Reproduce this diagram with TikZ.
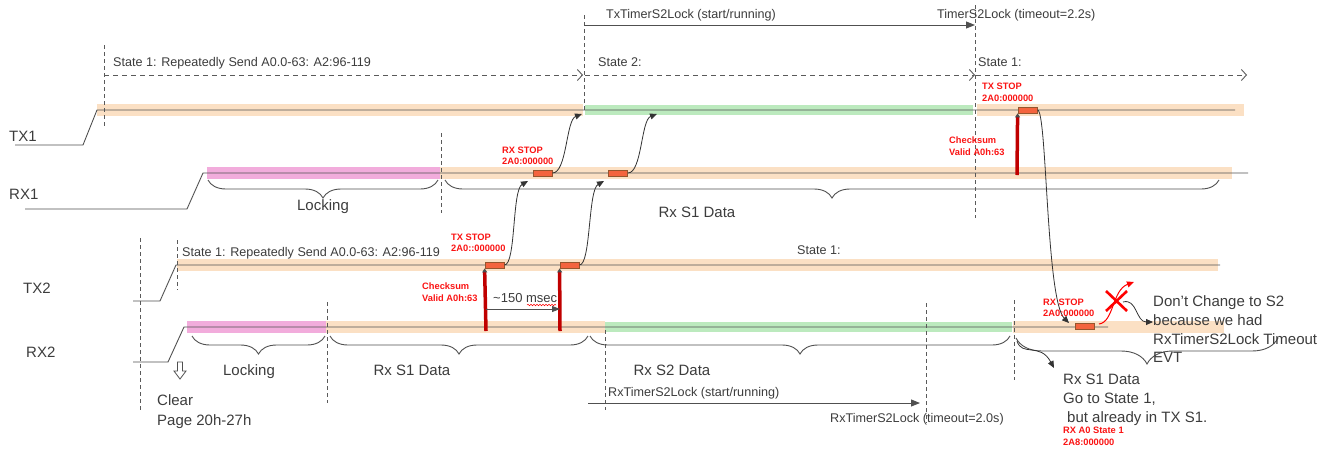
\documentclass[tikz,border=0pt]{standalone}
\usepackage{fontspec}
\setmainfont{Liberation Sans}
\usetikzlibrary{arrows.meta,decorations.pathreplacing,decorations.pathmorphing}
\definecolor{bandO}{RGB}{251,224,196}
\definecolor{bandP}{RGB}{242,172,220}
\definecolor{bandG}{RGB}{188,234,190}
\definecolor{sigc}{RGB}{80,80,80}
\definecolor{dashc}{RGB}{90,90,90}
\definecolor{txtc}{RGB}{60,60,60}
\definecolor{rboxf}{RGB}{244,100,62}
\definecolor{rboxd}{RGB}{150,85,45}
\definecolor{barc}{RGB}{192,0,0}
\definecolor{redtc}{RGB}{250,20,20}
\begin{document}
\begin{tikzpicture}[x=1pt,y=-1pt,
 sig/.style={draw=sigc, line width=0.9pt},
 band/.style={line width=12pt},
 vdash/.style={draw=dashc, line width=0.9pt, dash pattern=on 4pt off 3pt},
 hdash/.style={draw=dashc, line width=0.9pt, dash pattern=on 5pt off 4pt, -{Straight Barb[length=5pt,width=11pt]}},
 timer/.style={draw=sigc, line width=1pt, -{Triangle[length=9pt,width=7pt]}},
 conn/.style={draw=black!80, line width=0.8pt, -{Triangle[length=7pt,width=6pt]}},
 brc/.style={draw=sigc, line width=0.9pt, decorate, decoration={brace, mirror, amplitude=18pt}},
 rbox/.style={draw=rboxd, fill=rboxf, line width=0.8pt, minimum width=19pt, minimum height=6pt, inner sep=0pt},
 redbar/.style={draw=barc, line width=3.5pt, -{Triangle[length=4pt,width=5pt,color=black!70]}},
 small/.style={font=\fontsize{12.6}{14}\selectfont, text=txtc, inner sep=0pt, anchor=base west},
 big/.style={font=\fontsize{15}{18.5}\selectfont, text=txtc, inner sep=0pt, anchor=base},
 bigblock/.style={font=\fontsize{15}{18.7}\selectfont, text=txtc, inner sep=0pt, align=left, anchor=north west},
 redt/.style={font=\bfseries\fontsize{9.3}{11.5}\selectfont, text=redtc, inner sep=0pt, align=left, anchor=north west},
]
\useasboundingbox (0,0) rectangle (1338,448);

% ---------- bands ----------
\draw[band, bandO] (97,110) -- (583,110);
\draw[band, bandG, line width=10pt] (585,110) -- (973,110);
\draw[band, bandO] (977,110) -- (1244,110);
\draw[band, bandP] (207,173) -- (440,173);
\draw[band, bandO] (440,173) -- (1232,173);
\draw[band, bandO] (177,265) -- (1218,265);
\draw[band, bandP] (187,327) -- (326,327);
\draw[band, bandO] (326,327) -- (605,327);
\draw[band, bandG, line width=10pt] (605,327) -- (1012,327);
\draw[band, bandO] (1013,327) -- (1224,327);

% ---------- signals ----------
\draw[sig] (15,145) -- (83,145) -- (97,110) -- (1235,110);
\draw[sig] (25,209) -- (187,209) -- (203,173) -- (1248,173);
\draw[sig] (133,301) -- (160,301) -- (176,265) -- (1220,265);
\draw[sig] (133,362) -- (168,362) -- (184,327) -- (1108,327);

% ---------- dashed verticals ----------
\draw[vdash] (104,45) -- (104,127);
\draw[vdash] (441,133) -- (441,213);
\draw[vdash] (584,15) -- (584,112);
\draw[vdash] (975,5) -- (975,218);
\draw[vdash] (140,238) -- (140,410);
\draw[vdash] (177,240) -- (177,290);
\draw[vdash] (327,302) -- (327,403);
\draw[vdash] (605,330) -- (605,410);
\draw[vdash] (926,303) -- (926,423);
\draw[vdash] (1014,300) -- (1014,380);

% ---------- state arrows ----------
\draw[hdash] (104,75) -- (583,75);
\draw[hdash] (585,75) -- (975,75);
\draw[hdash] (976,75) -- (1247,75);
\draw[timer] (584,25) -- (975,25);
\draw[timer] (588,403) -- (920,403);

% ---------- labels ----------
\node[small] (s1a) at (113,66) {State 1: Repeatedly Send A0.0-63: A2:96-119};
\node[small] (txt) at (606,18) {TxTimerS2Lock (start/running)};
\node[small] (tto) at (937,18) {TimerS2Lock (timeout=2.2s)};
\node[small] (s2) at (598,66) {State 2:};
\node[small] (s1b) at (978,66) {State 1:};
\node[small] (s1c) at (182,256) {State 1: Repeatedly Send A0.0-63: A2:96-119};
\node[small] (s1d) at (797,254) {State 1:};
\node[small] (rxt) at (608,396) {RxTimerS2Lock (start/running)};
\node[small] (rxto) at (830,422) {RxTimerS2Lock (timeout=2.0s)};

\node[big, anchor=base west] (ltx1) at (9,141) {TX1};
\node[big, anchor=base west] (lrx1) at (9,199) {RX1};
\node[big, anchor=base west] (ltx2) at (23,293) {TX2};
\node[big, anchor=base west] (lrx2) at (26,357) {RX2};

% ---------- braces ----------
\draw[brc] (208,180) -- (438,180);
\draw[brc] (445,180) -- (1219,180);
\draw[brc] (192,336) -- (325,336);
\draw[brc] (330,336) -- (588,336);
\draw[brc] (590,336) -- (1010,336);
\draw[brc, decoration={brace, mirror, amplitude=26pt}] (1016,338) -- (1278,338);

\node[big] (lock1) at (323,210) {Locking};
\node[big] (rxs1a) at (697,217) {Rx S1 Data};
\node[big] (lock2) at (249,375) {Locking};
\node[big] (rxs1b) at (412,375) {Rx S1 Data};
\node[big] (rxs2) at (672,375) {Rx S2 Data};

\node[bigblock, font=\fontsize{15}{20}\selectfont] (clr) at (157,394.6) {Clear\\Page 20h-27h};
\draw[draw=sigc, line width=0.8pt] (177.5,362) -- (182.5,362) -- (182.5,371) -- (186,371) -- (180,379) -- (174,371) -- (177.5,371) -- cycle;

% ---------- red boxes ----------
\node[rbox] (rb1) at (542.5,173) {};
\node[rbox] (rb2) at (618,173) {};
\node[rbox] (tb1) at (494.5,265) {};
\node[rbox] (tb2) at (569.5,265) {};
\node[rbox] (tb3) at (1027.5,110) {};
\node[rbox] (rb3) at (1084.5,326) {};

% red bars
\coordinate (cb1) at (486,331);
\coordinate (cb2) at (560,331);
\coordinate (cb3) at (1017,175);
\draw[redbar] (cb1) -- (tb1.south west);
\draw[redbar] (cb2) -- (tb2.south west);
\draw[redbar] (cb3) -- (tb3.south west);

% ~150 msec
\draw[timer, line width=0.8pt, -{Triangle[length=8pt,width=6pt]}] (486,309) -- (560,309);
\node[small, font=\fontsize{13}{15}\selectfont] (msec) at (493,302) {\textasciitilde 150 msec};
\draw[red, line width=0.5pt, decorate, decoration={snake, amplitude=0.8pt, segment length=3pt}] (527,305) -- (556,305);

% ---------- connectors ----------
\coordinate (a1) at (582,114);
\coordinate (a2) at (657,114);
\coordinate (a3) at (528,181);
\coordinate (a4) at (604,181);
\coordinate (a5) at (1069,323);
\draw[conn] (rb1.east) .. controls (567,173) and (566,120) .. (a1);
\draw[conn] (rb2.east) .. controls (642,173) and (641,120) .. (a2);
\draw[conn] (tb1.east) .. controls (516,265) and (512,190) .. (a3);
\draw[conn] (tb2.east) .. controls (591,265) and (588,190) .. (a4);
\draw[conn] (tb3.east) .. controls (1047,108) and (1046,300) .. (a5);

% red X and red arrow
\coordinate (rx0) at (1099,324);
\coordinate (rx1) at (1134,282);
\draw[red, line width=1pt, -{Triangle[length=7pt,width=6pt]}] (rx0) .. controls (1114,322) and (1112,290) .. (rx1);
\draw[red, line width=2.6pt] (1106,291) -- (1127,311) (1127,291) -- (1106,311);
\coordinate (bx0) at (1123,302);
\coordinate (bx1) at (1153,322);
\draw[conn] (bx0) .. controls (1137,298) and (1136,322) .. (bx1);
\coordinate (gx0) at (1017,341);
\coordinate (gx1) at (1054,368);
\draw[conn] (gx0) .. controls (1022,357) and (1040,342) .. (gx1);

% ---------- right text ----------
\node[bigblock] (dont) at (1153,295.6) {Don't Change to S2\\because we had\\RxTimerS2Lock Timeout\\EVT};
\node[bigblock, font=\fontsize{15}{19}\selectfont] (goto) at (1063,373.6) {Rx S1 Data\\Go to State 1,\\\hspace{4pt}but already in TX S1.};

% ---------- red texts ----------
\node[redt] (t1) at (502,146.7) {RX STOP\\2A0:000000};
\node[redt] (t2) at (451,233.7) {TX STOP\\2A0::000000};
\node[redt] (t3) at (422,282.7) {Checksum\\Valid A0h:63};
\node[redt, font=\bfseries\fontsize{9.3}{12}\selectfont] (t4) at (982,82.7) {TX STOP\\2A0:000000};
\node[redt] (t5) at (949,136.7) {Checksum\\Valid A0h:63};
\node[redt] (t6) at (1043,298.7) {RX STOP\\2A0:000000};
\node[redt, font=\bfseries\fontsize{9.3}{12}\selectfont] (t7) at (1063,426.7) {RX A0 State 1\\2A8:000000};
\end{tikzpicture}
\end{document}
